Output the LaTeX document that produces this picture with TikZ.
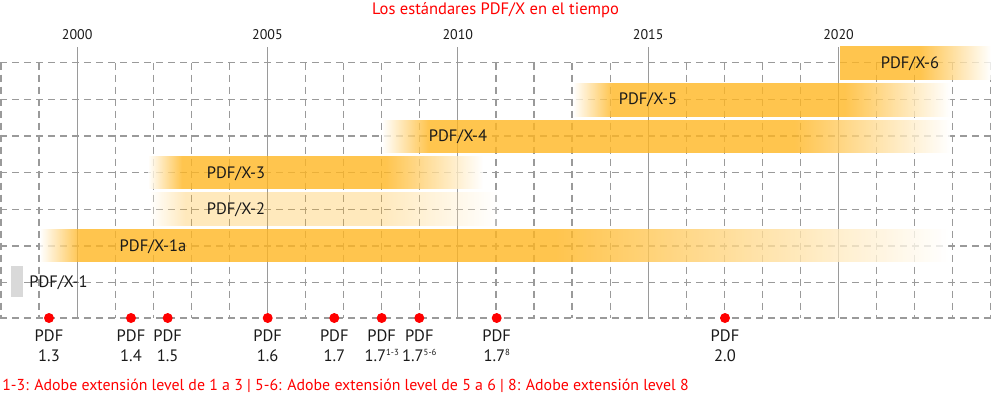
\documentclass[tikz,border=0pt]{standalone}
\usepackage{fontspec}
\setmainfont{PT Sans}
\definecolor{barc}{HTML}{FFB622}
\definecolor{gridc}{HTML}{9A9A9A}
\definecolor{txtc}{HTML}{1A1A1A}
\definecolor{boxg}{HTML}{D9D9D9}
\definecolor{redc}{HTML}{FF0000}
\newcommand\supx[1]{\raisebox{0.62ex}{\fontsize{6.6}{7}\selectfont #1}}
\pgfdeclarehorizontalshading{bxsix}{100bp}{color(0bp)=(barc); color(51.5bp)=(barc); color(75bp)=(white); color(100bp)=(white)}
\pgfdeclarehorizontalshading{bxfive}{100bp}{color(0bp)=(white); color(25bp)=(white); color(30.2bp)=(barc); color(61bp)=(barc); color(75bp)=(white); color(100bp)=(white)}
\pgfdeclarehorizontalshading{bxfour}{100bp}{color(0bp)=(white); color(25bp)=(white); color(29.1bp)=(barc); color(61.3bp)=(barc); color(75bp)=(white); color(100bp)=(white)}
\pgfdeclarehorizontalshading{bxthree}{100bp}{color(0bp)=(white); color(25bp)=(white); color(30.1bp)=(barc); color(60.4bp)=(barc); color(75bp)=(white); color(100bp)=(white)}
\pgfdeclarehorizontalshading{bxtwo}{100bp}{color(0bp)=(white); color(25bp)=(white); color(30.1bp)=(barc); color(58bp)=(barc); color(75bp)=(white); color(100bp)=(white)}
\pgfdeclarehorizontalshading{bxone}{100bp}{color(0bp)=(white); color(25bp)=(white); color(27.2bp)=(barc); color(53.4bp)=(barc); color(75bp)=(white); color(100bp)=(white)}
\begin{document}
\begin{tikzpicture}[x=0.75pt,y=-0.75pt,
  gridline/.style={draw=gridc, line width=0.9pt, dash pattern=on 5.25pt off 3.75pt},
  yearline/.style={draw=gridc, line width=0.8pt},
  lbl/.style={font=\fontsize{12.4}{14}\selectfont, text=txtc, inner sep=0pt, anchor=base},
  yrlbl/.style={font=\fontsize{10.5}{12}\selectfont, text=txtc, inner sep=0pt, anchor=base},
  redtxt/.style={font=\fontsize{12.4}{14}\selectfont, text=redc, inner sep=0pt},
  reddot/.style={circle, fill=redc, minimum size=7.5pt, inner sep=0pt},
  barfill/.style={opacity=0.8}]
\useasboundingbox (0pt,0pt) rectangle (744pt,-295.5pt);
% grid
\foreach \yy in {62.7,99.3,136,172.7,209.3,246,282.5,318}
  \draw[gridline] (0,\yy) -- (991,\yy);
\foreach \i in {0,...,26}{
  \pgfmathsetmacro\xx{1+38.07*\i}
  \pgfmathtruncatemacro\mm{mod(\i+1998,5)}
  \ifnum\mm=0
    \draw[yearline] (\xx,47) -- (\xx,318);
    \pgfmathtruncatemacro\yl{\i+1998}
    \node[yrlbl] (yr\yl) at (\xx,39.5) {\yl};
  \else
    \draw[gridline] (\xx,62.7) -- (\xx,318);
  \fi
}
% bars
\shade[shading=bxsix, barfill] (840,46.7) rectangle (991,79.3);
\shade[shading=bxfive, barfill] (573,83.3) rectangle (950,116);
\shade[shading=bxfour, barfill] (382,120) rectangle (950,152);
\shade[shading=bxthree, barfill] (148,156.7) rectangle (483,188.3);
\shade[shading=bxtwo, opacity=0.3] (150,192.7) rectangle (497,225);
\shade[shading=bxone, barfill] (40,229.3) rectangle (948,261.7);
\fill[boxg] (11,266) rectangle (22.7,297);
% bar labels
\node[lbl] (x6) at (910,68) {PDF/X-6};
\node[lbl] (x5) at (648,104.6) {PDF/X-5};
\node[lbl] (x4) at (458,141.3) {PDF/X-4};
\node[lbl] (x3) at (236,178) {PDF/X-3};
\node[lbl] (x2) at (236,214.6) {PDF/X-2};
\node[lbl] (x1a) at (153,251.3) {PDF/X-1a};
\node[lbl, anchor=base west] (x1) at (29,287.5) {PDF/X-1};
% title and note
\node[redtxt, anchor=base] (title) at (495.5,14) {Los estándares PDF/X en el tiempo};
\node[redtxt, anchor=base west, font=\fontsize{11.9}{14}\selectfont] (note) at (2,390) {1-3: Adobe extensión level de 1 a 3 | 5-6: Adobe extensión level de 5 a 6 | 8: Adobe extensión level 8};
% versions
\foreach \x/\v/\n in {49/1.3/a,131/1.4/b,167.7/1.5/c,267.7/1.6/d,334.3/1.7/e,381.7/{1.7\supx{1-3}}/f,419.3/{1.7\supx{5-6}}/g,496.7/{1.7\supx{8}}/h,725/2.0/i}{
  \node[reddot] (dot\n) at (\x,318) {};
  \node[lbl] (pdf\n) at (\x,341.7) {PDF};
  \node[lbl] (ver\n) at (\x,361) {\v};
}
\end{tikzpicture}
\end{document}
